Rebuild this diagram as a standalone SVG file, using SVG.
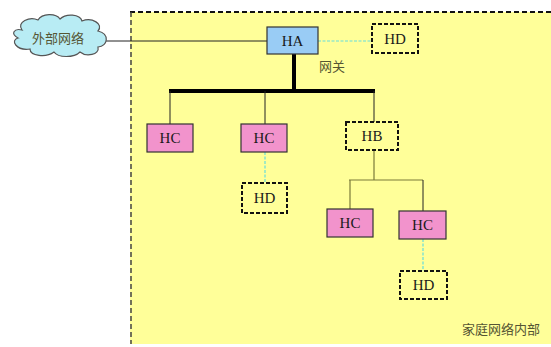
<svg xmlns="http://www.w3.org/2000/svg" width="551" height="347" viewBox="0 0 551 347">
<style>
.lbl{font-family:"Liberation Serif",serif;font-size:15px;fill:#1a1a1a;text-anchor:middle;dominant-baseline:central}
.cjk{font-family:"Noto Sans CJK SC",sans-serif;font-size:13px;fill:#555533}
.hc{fill:#f293cc;stroke:#333;stroke-width:1.2}
.hd{fill:#ffff99;stroke:#111;stroke-width:2;stroke-dasharray:4 2}
.ln{stroke:#222;stroke-width:1;fill:none}
.ol{stroke:#7a7a3a;stroke-width:1.2;fill:none}
.cy{stroke:#66dddd;stroke-width:1.2;stroke-dasharray:3 1.5;fill:none}
</style>
<rect width="551" height="347" fill="#ffffff"/>
<g id="home">
<rect x="130" y="12" width="425" height="332" fill="#ffff99"/>
<line x1="130" y1="12" x2="551" y2="12" stroke="#111" stroke-width="2" stroke-dasharray="5 3"/>
<line x1="131" y1="12" x2="131" y2="344" stroke="#444" stroke-width="1.5" stroke-dasharray="5 3"/>
<text class="cjk" x="501" y="328" text-anchor="middle" dominant-baseline="central" font-size="15">家庭网络内部</text>
</g>
<g id="connectors">
<line class="ln" x1="106" y1="41" x2="267" y2="41"/>
<line class="cy" x1="318" y1="41" x2="372" y2="41"/>
<line x1="294" y1="54" x2="294" y2="91" stroke="#000" stroke-width="4"/>
<line x1="169" y1="91" x2="375" y2="91" stroke="#000" stroke-width="4"/>
<line class="ln" x1="170" y1="91" x2="170" y2="124"/>
<line class="ln" x1="265" y1="91" x2="265" y2="124"/>
<line class="ln" x1="374" y1="91" x2="374" y2="122"/>
<line class="cy" x1="265" y1="152" x2="265" y2="183"/>
<line class="ol" x1="374" y1="150" x2="374" y2="180"/>
<line class="ol" x1="349" y1="180" x2="423" y2="180"/>
<line class="ol" x1="350" y1="180" x2="350" y2="209"/>
<line class="ln" x1="423" y1="180" x2="423" y2="211"/>
<line class="cy" x1="423" y1="239" x2="423" y2="271"/>
</g>
<g id="cloud">
<path d="M22,30 C16,22 30,16 38,20 C42,13 56,13 60,19 C66,13 80,14 82,21 C92,17 104,24 98,31 C110,34 108,46 98,47 C100,55 86,57 80,52 C74,58 58,58 54,52 C46,58 30,56 30,49 C16,51 10,40 18,38 C10,34 14,28 22,30 Z" fill="#b8ecf4" stroke="#555" stroke-width="1.2"/>
<text class="cjk" x="58" y="37" text-anchor="middle" dominant-baseline="central" font-size="13" fill="#333">外部网络</text>
</g>
<g id="HA">
<rect x="267" y="27" width="51" height="27" fill="#99ccf5" stroke="#333" stroke-width="1.2"/>
<text class="lbl" x="292.5" y="41">HA</text>
</g>
<g id="gw-label"><text class="cjk" x="332" y="65" text-anchor="middle" dominant-baseline="central">网关</text></g>
<g id="HD1">
<rect class="hd" x="372" y="24" width="46" height="29"/>
<text class="lbl" x="395" y="39">HD</text>
</g>
<g id="HC1">
<rect class="hc" x="147" y="124" width="46" height="28"/>
<text class="lbl" x="170" y="138">HC</text>
</g>
<g id="HC2">
<rect class="hc" x="241" y="124" width="46" height="28"/>
<text class="lbl" x="264" y="138">HC</text>
</g>
<g id="HB">
<rect class="hd" x="346" y="122" width="52" height="28"/>
<text class="lbl" x="372" y="136">HB</text>
</g>
<g id="HD2">
<rect class="hd" x="242" y="183" width="45" height="30"/>
<text class="lbl" x="264.5" y="198">HD</text>
</g>
<g id="HC3">
<rect class="hc" x="327" y="209" width="46" height="28"/>
<text class="lbl" x="350" y="223">HC</text>
</g>
<g id="HC4">
<rect class="hc" x="399" y="211" width="47" height="28"/>
<text class="lbl" x="422.5" y="225">HC</text>
</g>
<g id="HD3">
<rect class="hd" x="400" y="271" width="47" height="28"/>
<text class="lbl" x="423.5" y="285">HD</text>
</g>
</svg>
